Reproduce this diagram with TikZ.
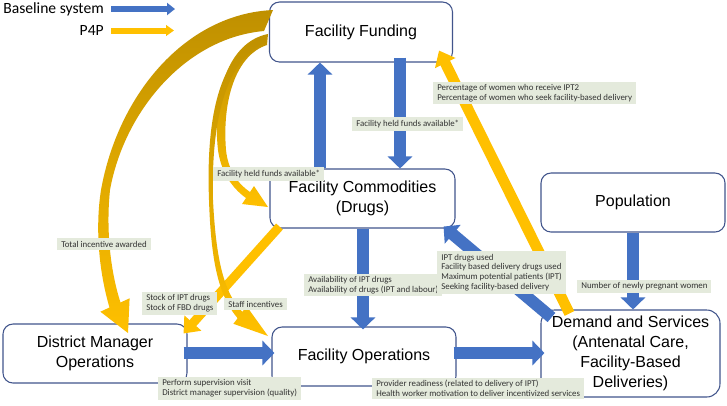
\documentclass[tikz,border=0pt]{standalone}
\usepackage{fontspec}
\setmainfont{Liberation Sans}
\newfontfamily\lblfont{Carlito}
\usetikzlibrary{arrows.meta,calc}
\definecolor{bblue}{HTML}{4472C4}
\definecolor{pgold}{HTML}{FFC000}
\definecolor{dgold}{HTML}{BF9000}
\definecolor{lblfill}{HTML}{E4EADC}
\definecolor{boxline}{HTML}{42558C}
\begin{document}
\begin{tikzpicture}[x=0.75pt,y=-0.75pt,
  sysbox/.style={draw=boxline, line width=0.8pt, rounded corners=7.5pt, fill=white, align=center, font=\fontsize{12}{15}\selectfont, inner sep=0pt},
  lbl/.style={fill=lblfill, font=\lblfont\fontsize{6.65}{7.3}\selectfont, align=left, inner xsep=3pt, inner ysep=2pt, text=black!80, anchor=west},
  legtext/.style={font=\lblfont\fontsize{11.7}{14}\selectfont, inner sep=0pt, anchor=east},
  barrow/.style={draw=bblue, line width=9pt, -{Triangle[width=18pt,length=9pt]}},
  garrow/.style={draw=pgold, line width=8pt, -{Triangle[width=16.5pt,length=10.5pt]}},
  goldshade/.style={top color=dgold, middle color=pgold, bottom color=pgold},
]
\useasboundingbox (0,0) rectangle (727,405);
\fill[white] (0,0) rectangle (727,405);

% boxes
\node[sysbox, minimum width=137.25pt, minimum height=45pt] (fund) at (361,32) {Facility Funding};
\node[sysbox, minimum width=138.75pt, minimum height=44.25pt] (comm) at (362.5,198.5) {Facility Commodities\\(Drugs)};
\node[sysbox, minimum width=138pt, minimum height=44.25pt] (pop) at (633,202.5) {Population};
\node[sysbox, minimum width=134.25pt, minimum height=65.25pt, rounded corners=10pt] (dem) at (630.5,353.5) {Demand and Services\\(Antenatal Care,\\Facility-Based\\Deliveries)};
\node[sysbox, minimum width=138pt, minimum height=44.25pt] (ops) at (364,356.5) {Facility Operations};
\node[sysbox, minimum width=138pt, minimum height=44.25pt] (dmo) at (95,353.5) {District Manager\\Operations};

% legend
\node[legtext] (lg1) at (104,9) {Baseline system};
\node[legtext] (lg2) at (104,30.5) {P4P};
\coordinate (lg1e) at (175,9);
\coordinate (lg2e) at (174,30.5);
\draw[draw=bblue, line width=5pt, -{Triangle[width=9pt,length=6pt]}] ($(lg1.east)+(7,0)$) -- (lg1e);
\draw[draw=pgold, line width=4.5pt, -{Triangle[width=8pt,length=6pt]}] ($(lg2.east)+(7,0)$) -- (lg2e);

% helper coordinates
\coordinate (xa) at (320,0);
\coordinate (xb) at (400,0);
\coordinate (xc) at (363,0);
\coordinate (xd) at (633,0);
\coordinate (ya) at (0,353);

% blue arrows
\draw[barrow] (comm.north -| xa) -- (fund.south -| xa);
\draw[barrow] ($(fund.south -| xb)+(0,-5)$) -- (comm.north -| xb);
\draw[barrow] (comm.south -| xc) -- ($(ops.north -| xc)+(0,3)$);
\draw[barrow] ($(dmo.east |- ya)+(-4,0)$) -- ($(ops.west |- ya)+(3,0)$);
\draw[barrow] ($(ops.east |- ya)+(-3,0)$) -- ($(dem.west |- ya)+(4,0)$);
\draw[barrow] (pop.south -| xd) -- (dem.north -| xd);
\draw[barrow] ($(dem.north west)+(11,8)$) -- ($(comm.south east)+(-12,-2)$);

% gold straight arrows
\draw[garrow] ($(dem.north west)+(29,4)$) -- ($(fund.south east)+(-14,-12)$);
\draw[garrow, line width=6.75pt] ($(comm.south west)+(10,-2)$) -- ($(dmo.north east)+(-4,10)$);

% gold curved arrows
% A: Funding -> District Manager
\shade[goldshade] (273,10) .. controls (185,14) and (118,95) .. (101,190)
  .. controls (95,228) and (99,272) .. (109.5,307.5)
  -- (100.4,311.7) -- (128,333) -- (129.6,298.3) -- (120.5,302.5)
  .. controls (110,270) and (106,228) .. (110,190)
  .. controls (124,112) and (185,38) .. (264,31) -- cycle;
% B: Funding -> Commodities
\shade[goldshade] (268,34) .. controls (228,42) and (212,95) .. (218,150)
  .. controls (221,172) and (232,188) .. (246,198)
  -- (242,204) -- (268,207) -- (254,186) -- (250,192)
  .. controls (238,184) and (228,170) .. (226,150)
  .. controls (222,100) and (236,55) .. (267,45) -- cycle;
% C: Funding -> Operations
\shade[goldshade] (265,37) .. controls (218,52) and (206,120) .. (209,200)
  .. controls (211,260) and (218,295) .. (237.6,318.2)
  -- (233.4,323.8) -- (268,336) -- (246.6,306.2) -- (242.4,311.8)
  .. controls (224,293) and (216,260) .. (213,200)
  .. controls (211,125) and (224,60) .. (266,42) -- cycle;

% labels
\node[lbl] (l1) at (352,124) {Facility held funds available*};
\node[lbl] (l2) at (433,93) {Percentage of women who receive IPT2\\Percentage of women who seek facility-based delivery};
\node[lbl] (l3) at (213,174) {Facility held funds available*};
\node[lbl] (l4) at (57,244) {Total incentive awarded};
\node[lbl] (l5) at (142,303.5) {Stock of IPT drugs\\Stock of FBD drugs};
\node[lbl] (l6) at (224,304) {Staff incentives};
\node[lbl] (l7) at (304,285) {Availability of IPT drugs\\Availability of drugs (IPT and labour)};
\node[lbl] (l8) at (437,272.5) {IPT drugs used\\Facility based delivery drugs used\\Maximum potential patients (IPT)\\Seeking facility-based delivery};
\node[lbl] (l9) at (577,286.5) {Number of newly pregnant women};
\node[lbl] (l10) at (158,388.5) {Perform supervision visit\\District manager supervision (quality)};
\node[lbl] (l11) at (372,388.5) {Provider readiness (related to delivery of IPT)\\Health worker motivation to deliver incentivized services};
\end{tikzpicture}
\end{document}
